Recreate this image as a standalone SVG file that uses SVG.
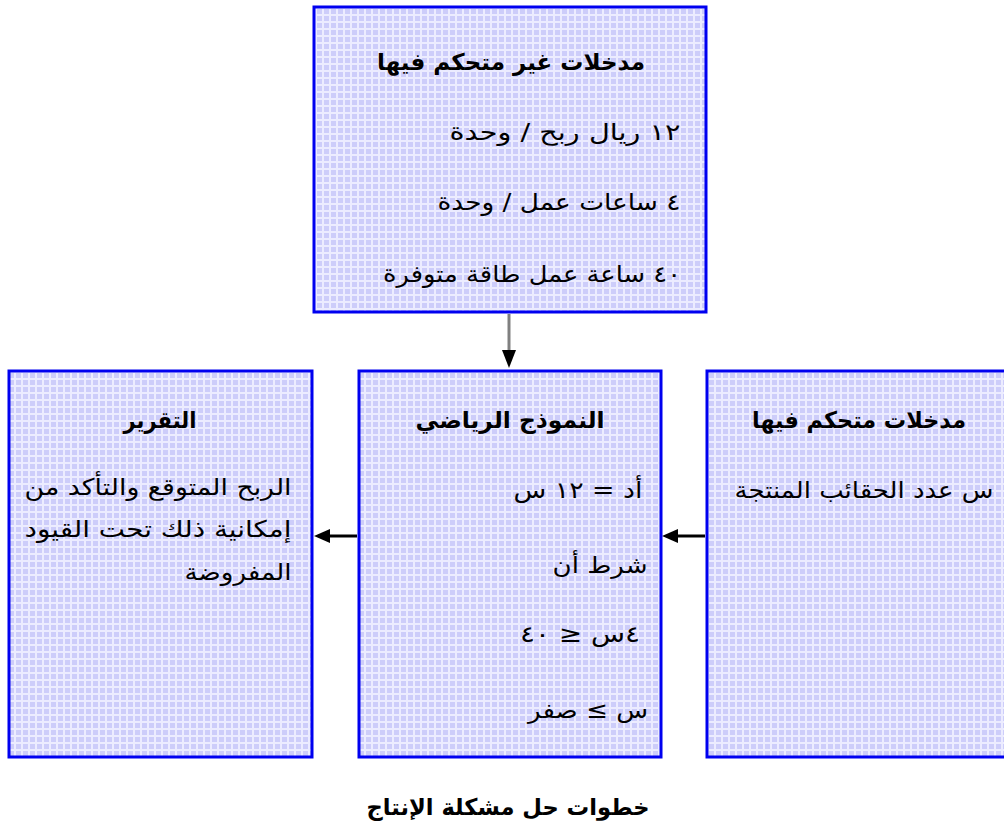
<svg xmlns="http://www.w3.org/2000/svg" width="1004" height="834" viewBox="0 0 1004 834">
<style>
.box{fill:url(#grid);stroke:#0000f0;stroke-width:3}
.t{font-family:"DejaVu Sans",sans-serif;font-size:23px;fill:#000;direction:rtl;unicode-bidi:embed}
.b{font-weight:bold}
.c{stroke:#000;stroke-width:3;fill:none}
</style>
<defs>
<pattern id="grid" width="7" height="7" patternUnits="userSpaceOnUse">
<rect width="7" height="7" fill="#cdcdfa"/>
<rect width="2" height="7" fill="#ececff"/>
<rect width="7" height="2" fill="#ececff"/>
</pattern>
</defs>
<rect width="1004" height="834" fill="#fff"/>
<g id="connectors">
<line x1="509" y1="314" x2="509" y2="352" stroke="#808080" stroke-width="3"/>
<polygon points="502,350 516,350 509,368" fill="#000"/>
<line class="c" x1="357" y1="536" x2="328" y2="536"/>
<polygon points="314,536 330,529 330,543" fill="#000"/>
<line class="c" x1="705" y1="536" x2="676" y2="536"/>
<polygon points="662,536 678,529 678,543" fill="#000"/>
</g>
<g id="top">
<rect class="box" x="314" y="7" width="392" height="305"/>
<text class="t b" x="511" y="70" text-anchor="middle" textLength="268" lengthAdjust="spacingAndGlyphs">مدخلات غير متحكم فيها</text>
<text class="t" x="565" y="140" text-anchor="middle" textLength="231" lengthAdjust="spacingAndGlyphs">١٢ ريال ربح / وحدة</text>
<text class="t" x="559" y="210" text-anchor="middle" textLength="243" lengthAdjust="spacingAndGlyphs">٤ ساعات عمل / وحدة</text>
<text class="t" x="532" y="282" text-anchor="middle" textLength="298" lengthAdjust="spacingAndGlyphs">٤٠ ساعة عمل طاقة متوفرة</text>
</g>
<g id="model">
<rect class="box" x="359" y="371" width="302" height="386"/>
<text class="t b" x="510" y="428" text-anchor="middle" textLength="189" lengthAdjust="spacingAndGlyphs">النموذج الرياضي</text>
<text class="t" x="578" y="498" text-anchor="middle" textLength="129" lengthAdjust="spacingAndGlyphs">أد = ١٢ س</text>
<text class="t" x="600" y="573" text-anchor="middle" textLength="95" lengthAdjust="spacingAndGlyphs">شرط أن</text>
<text class="t" x="580" y="642" text-anchor="middle" textLength="120" lengthAdjust="spacingAndGlyphs">٤س ≤ ٤٠</text>
<text class="t" x="588" y="718" text-anchor="middle" textLength="120" lengthAdjust="spacingAndGlyphs">س ≥ صفر</text>
</g>
<g id="report">
<rect class="box" x="9" y="371" width="303" height="386"/>
<text class="t b" x="160" y="428" text-anchor="middle" textLength="73" lengthAdjust="spacingAndGlyphs">التقرير</text>
<text class="t" x="158" y="495" text-anchor="middle" textLength="267" lengthAdjust="spacingAndGlyphs">الربح المتوقع والتأكد من</text>
<text class="t" x="158" y="537" text-anchor="middle" textLength="267" lengthAdjust="spacingAndGlyphs">إمكانية ذلك تحت القيود</text>
<text class="t" x="238" y="580" text-anchor="middle" textLength="107" lengthAdjust="spacingAndGlyphs">المفروضة</text>
</g>
<g id="controlled">
<rect class="box" x="707" y="371" width="300" height="386"/>
<text class="t b" x="859" y="428" text-anchor="middle" textLength="214" lengthAdjust="spacingAndGlyphs">مدخلات متحكم فيها</text>
<text class="t" x="864" y="498" text-anchor="middle" textLength="259" lengthAdjust="spacingAndGlyphs">س عدد الحقائب المنتجة</text>
</g>
<g id="caption">
<text class="t b" x="508" y="815" text-anchor="middle" textLength="283" lengthAdjust="spacingAndGlyphs">خطوات حل مشكلة الإنتاج</text>
</g>
</svg>
